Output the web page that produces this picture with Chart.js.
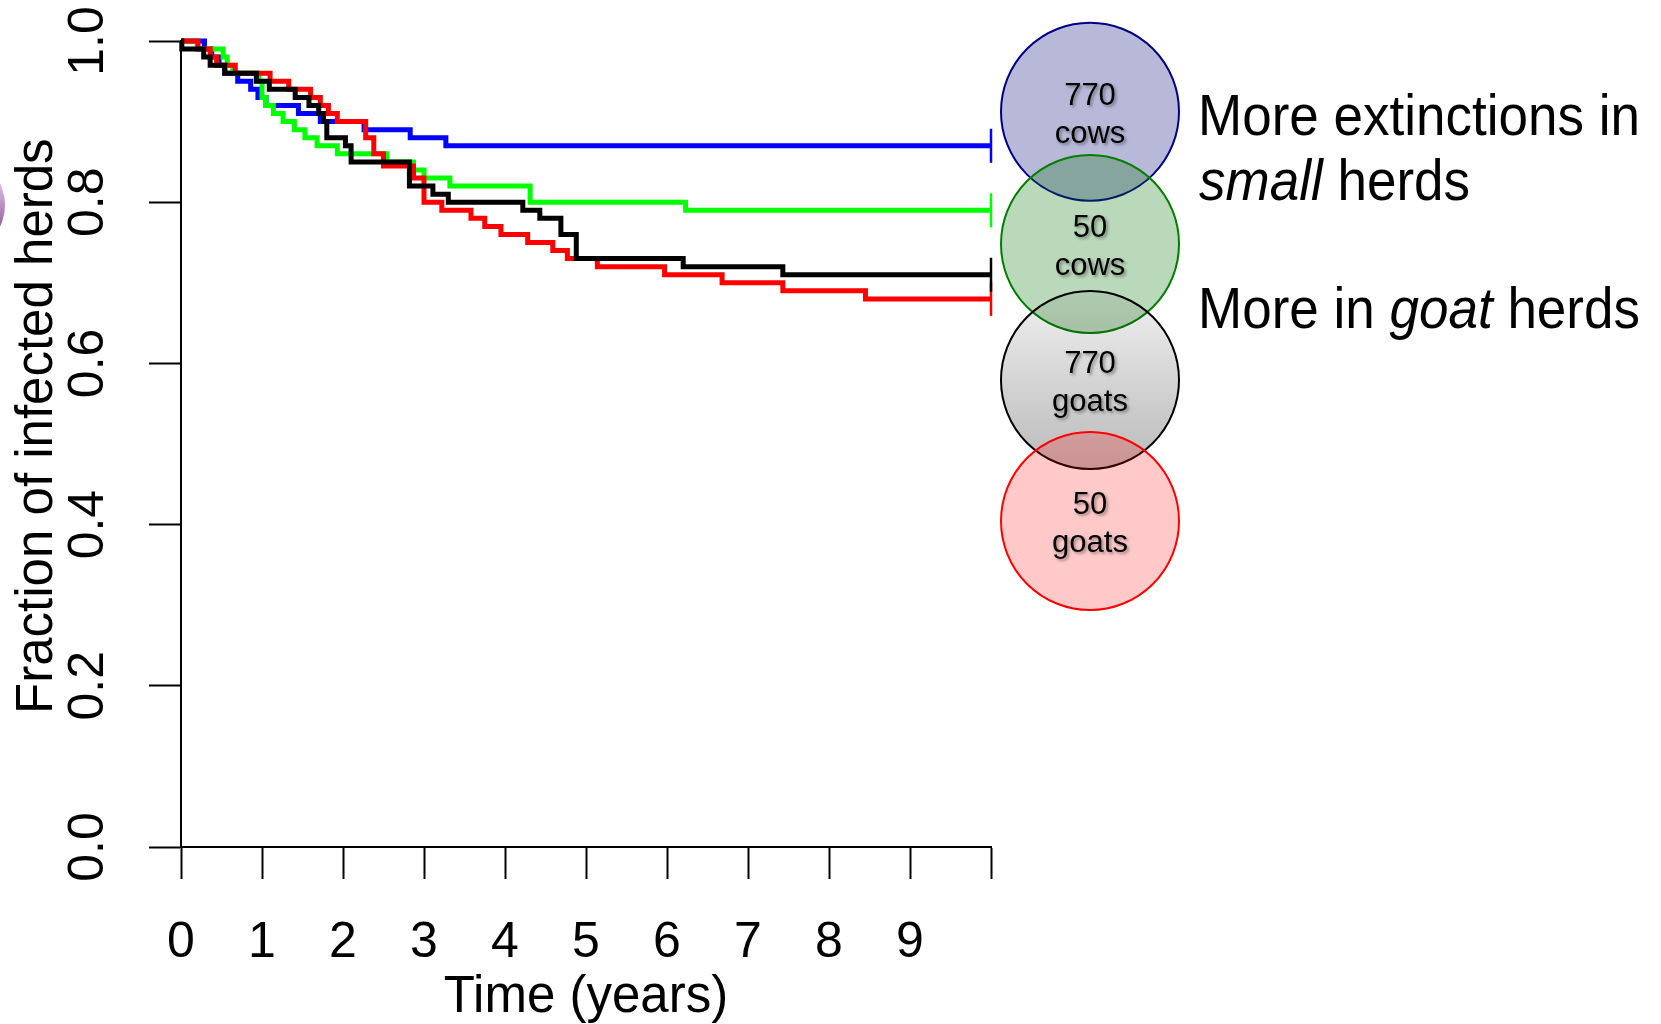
<!DOCTYPE html>
<html>
<head>
<meta charset="utf-8">
<script src="https://cdn.jsdelivr.net/npm/chart.js@4.4.1/dist/chart.umd.min.js"></script>
<style>
  html, body { margin: 0; padding: 0; background: #ffffff; }
  canvas { display: block; }
</style>
</head>
<body>
<canvas id="myChart" width="1661" height="1024"></canvas>
<script>
// Kaplan-Meier style curves: time (years) at each step, fraction still infected after the step
const blueTimes = [0, 0.29, 0.38, 0.47, 0.54, 0.70, 0.86, 0.95, 1.05, 1.45, 1.72, 2.26, 2.83, 3.27, 10];
const blueSurv  = [1.00, 0.99, 0.98, 0.97, 0.96, 0.95, 0.94, 0.93, 0.92, 0.91, 0.90, 0.89, 0.88, 0.87, 0.87];

const greenTimes = [0, 0.20, 0.52, 0.57, 0.64, 0.96, 1.00, 1.05, 1.14, 1.26, 1.40, 1.53, 1.68, 1.93, 2.54, 2.87, 3.00, 3.32, 4.31, 6.23, 10];
const greenSurv  = [1.00, 0.99, 0.98, 0.97, 0.96, 0.95, 0.93, 0.92, 0.91, 0.90, 0.89, 0.88, 0.87, 0.86, 0.85, 0.84, 0.83, 0.82, 0.80, 0.79, 0.79];

const redTimes = [0, 0.21, 0.36, 0.44, 0.67, 1.10, 1.33, 1.60, 1.72, 1.82, 1.93, 2.28, 2.38, 2.50, 2.87, 3.00, 3.22, 3.58, 3.75, 3.95, 4.28, 4.59, 4.77, 5.14, 5.97, 6.68, 7.43, 8.45, 10];
const redSurv  = [1.00, 0.99, 0.98, 0.97, 0.96, 0.95, 0.94, 0.93, 0.92, 0.91, 0.90, 0.88, 0.86, 0.845, 0.83, 0.80, 0.79, 0.78, 0.77, 0.76, 0.75, 0.74, 0.73, 0.72, 0.71, 0.70, 0.69, 0.68, 0.68];

const blackTimes = [0, 0.01, 0.28, 0.36, 0.54, 0.93, 1.09, 1.41, 1.58, 1.70, 1.76, 1.80, 2.03, 2.10, 2.82, 3.11, 3.30, 4.22, 4.43, 4.69, 4.88, 6.20, 7.43, 10];
const blackSurv  = [1.00, 0.99, 0.98, 0.97, 0.96, 0.95, 0.94, 0.93, 0.92, 0.91, 0.90, 0.88, 0.87, 0.85, 0.82, 0.81, 0.80, 0.79, 0.78, 0.76, 0.73, 0.72, 0.71, 0.71];

const xTickLabels = ['0', '1', '2', '3', '4', '5', '6', '7', '8', '9', ''];
const yTickLabels = ['0.0', '0.2', '0.4', '0.6', '0.8', '1.0'];

const herdSizes = ['770', '50', '770', '50'];
const herdKinds = ['cows', 'cows', 'goats', 'goats'];

const noteLine1 = [['More extinctions in', false]];
const noteLine2 = [['small', true], [' herds', false]];
const noteLine3 = [['More in ', false], ['goat', true], [' herds', false]];

const FONT = '"Liberation Sans", Arial, Helvetica, sans-serif';
Chart.defaults.font.family = FONT;
Chart.defaults.color = '#000';

function makeSeries(label, times, vals, color) {
  const last = times.length - 1;
  return {
    label: label,
    data: times.map((t, i) => ({ x: t, y: vals[i] })),
    borderColor: color,
    borderWidth: 5,
    stepped: 'before',
    fill: false,
    clip: false,
    pointStyle: 'line',
    pointRotation: 90,
    pointRadius: c => (c.dataIndex === last ? 17 : 0),
    pointHoverRadius: 0,
    pointBorderColor: color,
    pointBorderWidth: 2.5
  };
}

// circles + side notes, drawn on top of the plot
const overlay = {
  id: 'overlay',
  afterDraw(chart) {
    const ctx = chart.ctx;
    ctx.save();

    // bit of a purple shape cut off at the left edge
    const pg = ctx.createLinearGradient(0, 178, 0, 235);
    pg.addColorStop(0, '#e2cbe8');
    pg.addColorStop(1, '#8c4f94');
    ctx.fillStyle = pg;
    ctx.beginPath();
    ctx.ellipse(-30, 205, 35, 42, 0, 0, Math.PI * 2);
    ctx.fill();

    const cx = 1090, r = 89;
    const cys = [111.7, 244, 380, 521];
    const strokes = ['#000088', '#007f00', '#000000', '#ff0000'];
    const fills = ['rgba(0,0,120,0.28)', 'rgba(0,110,0,0.27)', null, 'rgba(255,0,0,0.21)'];

    cys.forEach((cy, i) => {
      let f = fills[i];
      if (!f) {
        f = ctx.createLinearGradient(0, cy - r, 0, cy + r);
        f.addColorStop(0, 'rgba(0,0,0,0.06)');
        f.addColorStop(1, 'rgba(0,0,0,0.27)');
      }
      ctx.beginPath();
      ctx.arc(cx, cy, r, 0, Math.PI * 2);
      ctx.fillStyle = f;
      ctx.fill();
      ctx.lineWidth = 2;
      ctx.strokeStyle = strokes[i];
      ctx.stroke();
    });

    ctx.fillStyle = '#000';
    ctx.textAlign = 'center';
    ctx.textBaseline = 'alphabetic';
    ctx.font = '31px ' + FONT;
    ctx.shadowColor = 'rgba(0,0,0,0.35)';
    ctx.shadowOffsetX = 2;
    ctx.shadowOffsetY = 2;
    ctx.shadowBlur = 3;
    cys.forEach((cy, i) => {
      ctx.fillText(herdSizes[i], cx, cy - 7);
      ctx.fillText(herdKinds[i], cx, cy + 31);
    });
    ctx.shadowColor = 'rgba(0,0,0,0)';

    function drawRuns(x, y, runs) {
      ctx.save();
      ctx.translate(x, y);
      ctx.scale(0.93, 1);
      ctx.textAlign = 'left';
      let px = 0;
      runs.forEach(([txt, italic]) => {
        ctx.font = (italic ? 'italic ' : '') + '57px ' + FONT;
        ctx.fillText(txt, px, 0);
        px += ctx.measureText(txt).width;
      });
      ctx.restore();
    }
    drawRuns(1198, 134.5, noteLine1);
    drawRuns(1199, 200, noteLine2);
    drawRuns(1198, 327.5, noteLine3);

    ctx.restore();
  }
};

const ctx = document.getElementById('myChart');
const chart = new Chart(ctx, {
  type: 'line',
  data: {
    datasets: [
      makeSeries('770 goats', blackTimes, blackSurv, '#000000'),
      makeSeries('50 goats', redTimes, redSurv, '#ff0000'),
      makeSeries('50 cows', greenTimes, greenSurv, '#00ff00'),
      makeSeries('770 cows', blueTimes, blueSurv, '#0000ff')
    ]
  },
  options: {
    responsive: false,
    animation: false,
    devicePixelRatio: 1,
    layout: { padding: { left: 0, top: 41, right: 670, bottom: 0 } },
    plugins: {
      legend: { display: false },
      tooltip: { enabled: false }
    },
    scales: {
      x: {
        type: 'linear',
        min: 0,
        max: 10,
        ticks: {
          stepSize: 1,
          autoSkip: false,
          maxRotation: 0,
          padding: 34,
          color: '#000',
          font: { size: 50 },
          callback: (v, i) => xTickLabels[i]
        },
        grid: { drawOnChartArea: false, drawTicks: true, tickLength: 32, tickWidth: 2, tickColor: '#000' },
        border: { display: true, color: '#000', width: 2 },
        title: { display: true, text: 'Time (years)', color: '#000', font: { size: 51, lineHeight: 1.02 }, padding: 0 },
        afterFit: s => { s.height = 177; s.paddingLeft = 0; s.paddingRight = 0; }
      },
      y: {
        type: 'linear',
        min: 0,
        max: 1,
        ticks: {
          stepSize: 0.2,
          minRotation: 90,
          maxRotation: 90,
          crossAlign: 'center',
          padding: 25,
          color: '#000',
          font: { size: 50 },
          callback: (v, i) => yTickLabels[i]
        },
        grid: { drawOnChartArea: false, drawTicks: true, tickLength: 32, tickWidth: 2, tickColor: '#000' },
        border: { display: true, color: '#000', width: 2 },
        // leading en + thin space nudges the rotated title up a little, as in the original
        title: { display: true, text: '\u2002\u2009Fraction of infected herds', color: '#000', font: { size: 51, lineHeight: 1.2 }, padding: { top: 7, bottom: 0 } },
        afterFit: s => { s.width = 181; s.paddingTop = 0; s.paddingBottom = 0; }
      }
    }
  },
  plugins: [overlay]
});
</script>
</body>
</html>
